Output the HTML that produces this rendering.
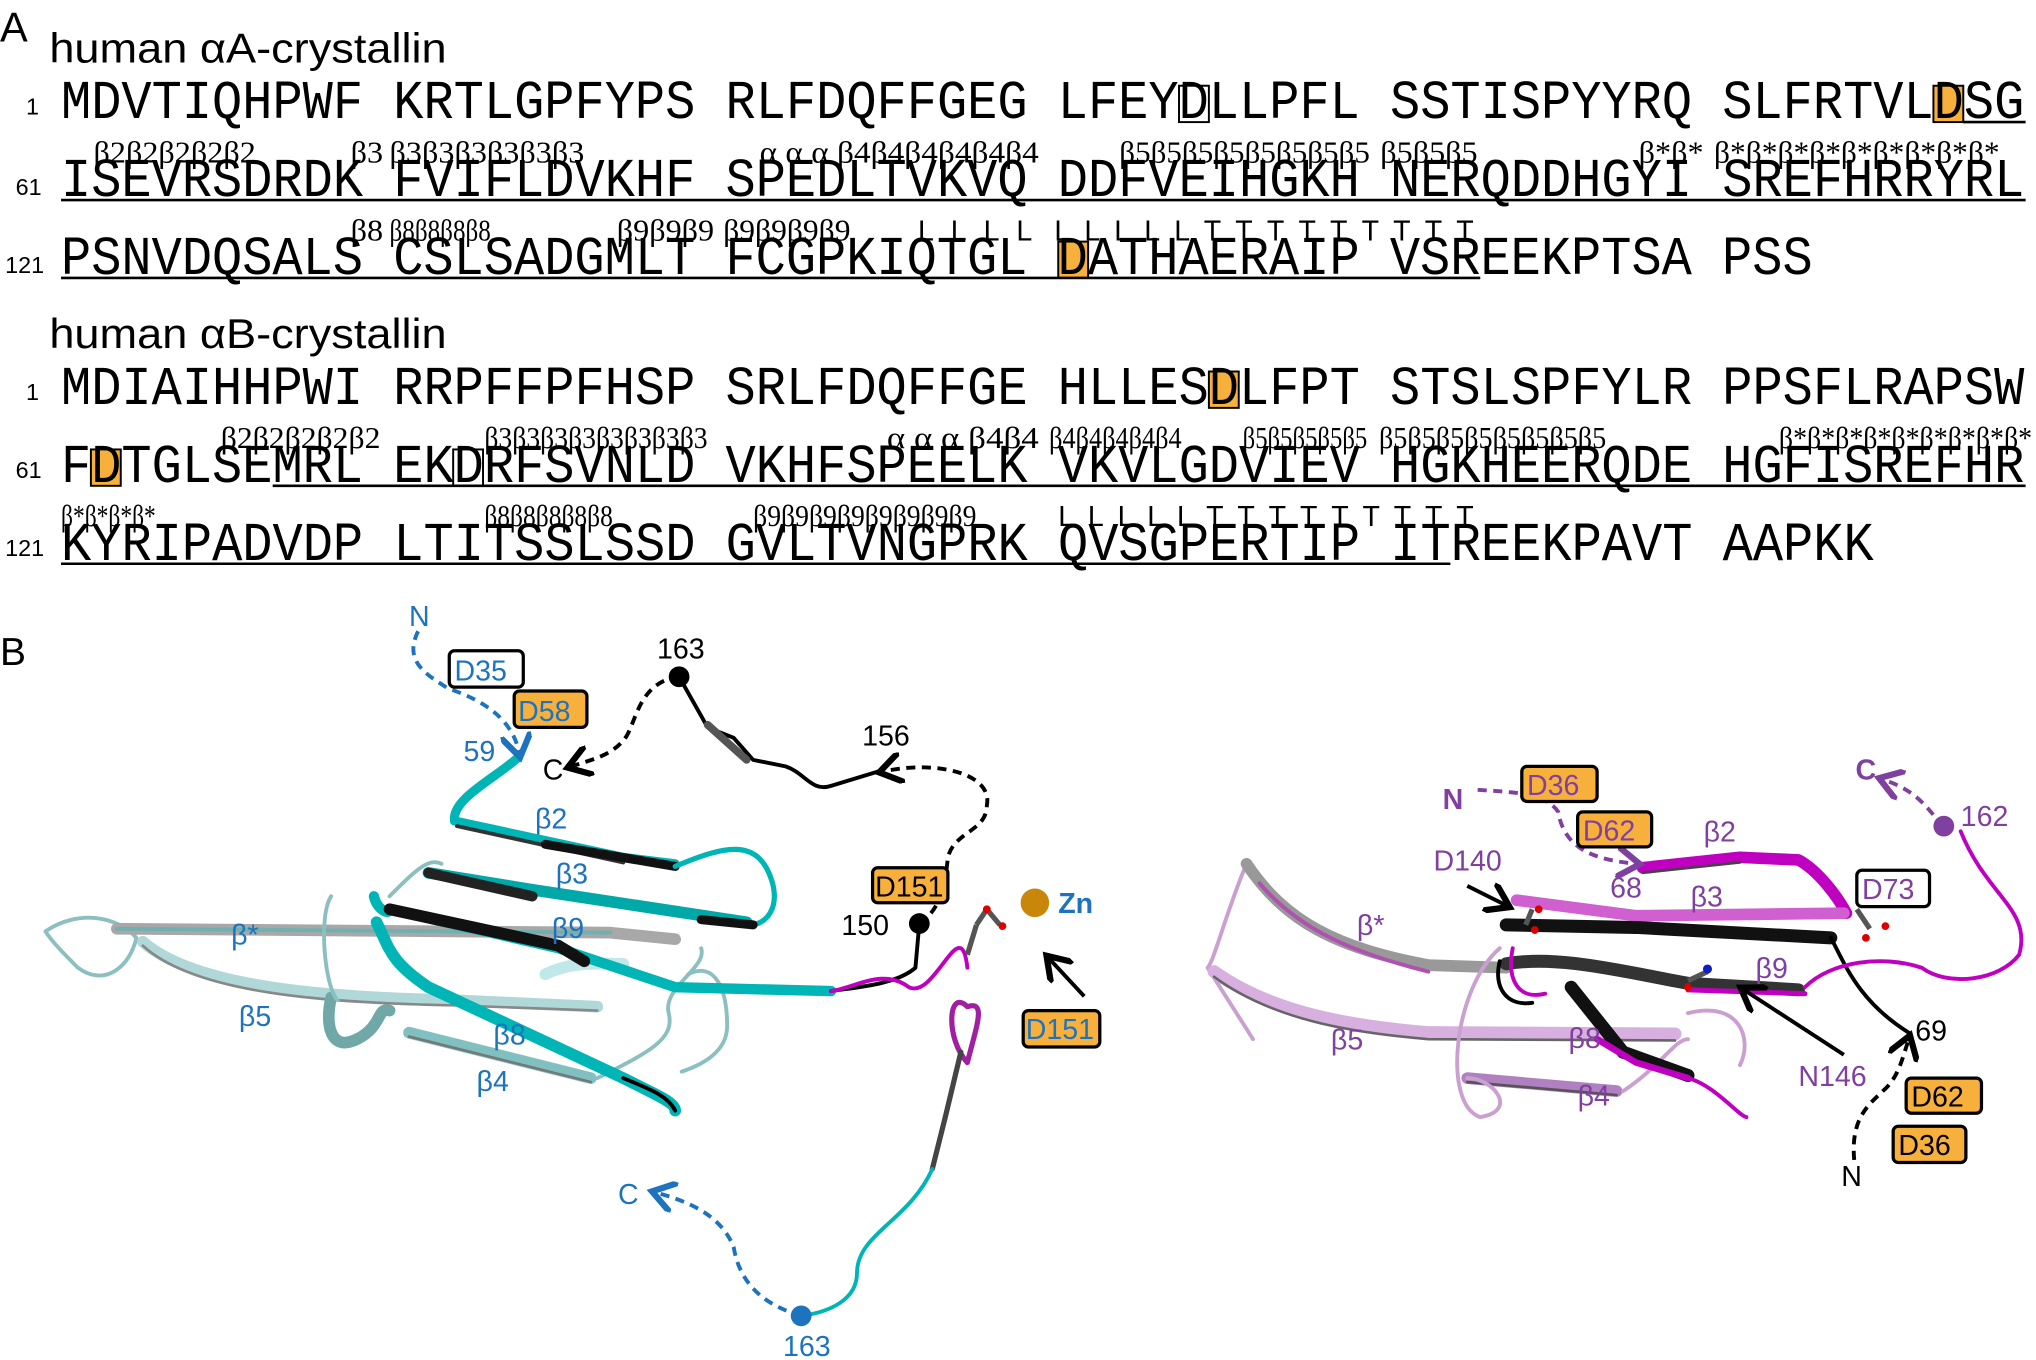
<!DOCTYPE html>
<html><head><meta charset="utf-8"><style>
html,body{margin:0;padding:0;background:#fff;}
svg{display:block;}
.seq{font-family:"Liberation Mono",monospace;font-size:42px;fill:#000;}
.lab{font-family:"Liberation Serif",serif;font-size:24px;fill:#000;}
.sans{font-family:"Liberation Sans",sans-serif;}
.num{font-family:"Liberation Sans",sans-serif;font-size:18px;fill:#000;}
</style></head><body>
<svg width="2036" height="1360" viewBox="0 0 1568 1047" preserveAspectRatio="none" xmlns="http://www.w3.org/2000/svg">
<!-- Panel A -->
<text x="0" y="32" class="sans" font-size="32">A</text>
<text x="38" y="48" class="sans" font-size="32" textLength="306" lengthAdjust="spacingAndGlyphs">human αA-crystallin</text>
<rect x="908" y="66" width="23" height="28" fill="#fff" stroke="#000" stroke-width="1.5"/>
<rect x="1489" y="66" width="23" height="28" fill="#f7b03c" stroke="#000" stroke-width="1.5"/>
<rect x="815" y="186" width="23" height="28" fill="#f7b03c" stroke="#000" stroke-width="1.5"/>
<rect x="931" y="286" width="23" height="28" fill="#f7b03c" stroke="#000" stroke-width="1.5"/>
<rect x="70" y="346" width="23" height="28" fill="#f7b03c" stroke="#000" stroke-width="1.5"/>
<rect x="349" y="346" width="23" height="28" fill="#fff" stroke="#000" stroke-width="1.5"/>

<text x="20" y="88" class="num">1</text>
<text x="47" y="91" class="seq" textLength="1512" lengthAdjust="spacingAndGlyphs">MDVTIQHPWF KRTLGPFYPS RLFDQFFGEG LFEYDLLPFL SSTISPYYRQ SLFRTVLDSG</text>
<line x1="1512" y1="94" x2="1560" y2="94" stroke="#000" stroke-width="2"/>

<text x="72" y="125" class="lab" textLength="125" lengthAdjust="spacingAndGlyphs">β2β2β2β2β2</text>
<text x="270" y="125" class="lab" textLength="25" lengthAdjust="spacingAndGlyphs">β3</text>
<text x="300" y="125" class="lab" textLength="150" lengthAdjust="spacingAndGlyphs">β3β3β3β3β3β3</text>
<text x="585" y="125" class="lab" textLength="215" lengthAdjust="spacingAndGlyphs">α α α β4β4β4β4β4β4</text>
<text x="862" y="125" class="lab" textLength="193" lengthAdjust="spacingAndGlyphs">β5β5β5β5β5β5β5β5</text>
<text x="1063" y="125" class="lab" textLength="75" lengthAdjust="spacingAndGlyphs">β5β5β5</text>
<text x="1262" y="125" class="lab" textLength="50" lengthAdjust="spacingAndGlyphs">β*β*</text>
<text x="1320" y="125" class="lab" textLength="220" lengthAdjust="spacingAndGlyphs">β*β*β*β*β*β*β*β*β*</text>
<text x="12" y="150" class="num">61</text>
<text x="47" y="151" class="seq" textLength="1512" lengthAdjust="spacingAndGlyphs">ISEVRSDRDK FVIFLDVKHF SPEDLTVKVQ DDFVEIHGKH NERQDDHGYI SREFHRRYRL</text>
<line x1="47" y1="154" x2="1560" y2="154" stroke="#000" stroke-width="2"/>

<text x="270" y="185" class="lab" textLength="25" lengthAdjust="spacingAndGlyphs">β8</text>
<text x="300" y="185" class="lab" textLength="78" lengthAdjust="spacingAndGlyphs">β8β8β8β8</text>
<text x="475" y="185" class="lab" textLength="75" lengthAdjust="spacingAndGlyphs">β9β9β9</text>
<text x="557" y="185" class="lab" textLength="98" lengthAdjust="spacingAndGlyphs">β9β9β9β9</text>
<text x="707" y="185" class="sans" font-size="22" textLength="88" lengthAdjust="spacing">L L L L</text>
<text x="812" y="185" class="sans" font-size="22" textLength="323" lengthAdjust="spacing">L L L L L T T T T T T  T T T</text>
<text x="4" y="210" class="num">121</text>
<text x="47" y="211" class="seq" textLength="1349" lengthAdjust="spacingAndGlyphs">PSNVDQSALS CSLSADGMLT FCGPKIQTGL DATHAERAIP VSREEKPTSA PSS</text>
<line x1="47" y1="214" x2="1140" y2="214" stroke="#000" stroke-width="2"/>

<text x="38" y="268" class="sans" font-size="32" textLength="306" lengthAdjust="spacingAndGlyphs">human αB-crystallin</text>
<text x="20" y="308" class="num">1</text>
<text x="47" y="311" class="seq" textLength="1512" lengthAdjust="spacingAndGlyphs">MDIAIHHPWI RRPFFPFHSP SRLFDQFFGE HLLESDLFPT STSLSPFYLR PPSFLRAPSW</text>

<text x="170" y="345" class="lab" textLength="123" lengthAdjust="spacingAndGlyphs">β2β2β2β2β2</text>
<text x="373" y="345" class="lab" textLength="172" lengthAdjust="spacingAndGlyphs">β3β3β3β3β3β3β3β3</text>
<text x="683" y="345" class="lab" textLength="117" lengthAdjust="spacingAndGlyphs">α α α β4β4</text>
<text x="808" y="345" class="lab" textLength="102" lengthAdjust="spacingAndGlyphs">β4β4β4β4β4</text>
<text x="957" y="345" class="lab" textLength="96" lengthAdjust="spacingAndGlyphs">β5β5β5β5β5</text>
<text x="1062" y="345" class="lab" textLength="175" lengthAdjust="spacingAndGlyphs">β5β5β5β5β5β5β5β5</text>
<text x="1370" y="345" class="lab" textLength="195" lengthAdjust="spacingAndGlyphs">β*β*β*β*β*β*β*β*β*</text>
<text x="12" y="368" class="num">61</text>
<text x="47" y="371" class="seq" textLength="1512" lengthAdjust="spacingAndGlyphs">FDTGLSEMRL EKDRFSVNLD VKHFSPEELK VKVLGDVIEV HGKHEERQDE HGFISREFHR</text>
<line x1="210" y1="374" x2="1560" y2="374" stroke="#000" stroke-width="2"/>

<text x="47" y="405" class="lab" textLength="73" lengthAdjust="spacingAndGlyphs">β*β*β*β*</text>
<text x="373" y="405" class="lab" textLength="99" lengthAdjust="spacingAndGlyphs">β8β8β8β8β8</text>
<text x="580" y="405" class="lab" textLength="172" lengthAdjust="spacingAndGlyphs">β9β9β9β9β9β9β9β9</text>
<text x="815" y="405" class="sans" font-size="22" textLength="320" lengthAdjust="spacing">L L L L L T T T T T T  T T T</text>
<text x="4" y="428" class="num">121</text>
<text x="47" y="431" class="seq" textLength="1396" lengthAdjust="spacingAndGlyphs">KYRIPADVDP LTITSSLSSD GVLTVNGPRK QVSGPERTIP ITREEKPAVT AAPKK</text>
<line x1="47" y1="434" x2="1117" y2="434" stroke="#000" stroke-width="2"/>

<!-- Panel B -->
<text x="0" y="512" class="sans" font-size="30">B</text>
<defs>
<marker id="ab" markerWidth="8" markerHeight="8" refX="5" refY="4" orient="auto" markerUnits="strokeWidth"><path d="M0,0 L6,4 L0,8" fill="none" stroke="#1e73be" stroke-width="1.6"/></marker>
<marker id="ak" markerWidth="8" markerHeight="8" refX="5" refY="4" orient="auto" markerUnits="strokeWidth"><path d="M0,0 L6,4 L0,8" fill="none" stroke="#000" stroke-width="1.6"/></marker>
<marker id="ap" markerWidth="8" markerHeight="8" refX="5" refY="4" orient="auto" markerUnits="strokeWidth"><path d="M0,0 L6,4 L0,8" fill="none" stroke="#8040a0" stroke-width="1.6"/></marker>
</defs>
<g fill="none" stroke-linecap="round" stroke-linejoin="round">
<path d="M35,717 C60,700 90,705 105,722 C100,745 80,760 60,745 C50,735 40,725 35,717" stroke="#8cc0c0" stroke-width="3"/>
<path d="M90,715 L470,718 L520,723" stroke="#a8a8a8" stroke-width="9"/>
<path d="M90,715 L470,718" stroke="#70b0b0" stroke-width="3"/>
<path d="M110,725 C150,760 250,768 350,770 L460,775" stroke="#b0d8d8" stroke-width="9"/>
<path d="M110,728 C150,765 250,772 350,774 L460,778" stroke="#888" stroke-width="2"/>
<path d="M255,768 C250,790 255,810 275,800 C295,790 290,775 300,778" stroke="#70a8a8" stroke-width="9"/>
<path d="M315,795 L455,830" stroke="#80c0c0" stroke-width="9"/>
<path d="M315,798 L455,833" stroke="#777" stroke-width="2"/>
<path d="M255,690 C245,705 250,760 260,770" stroke="#8cc0c0" stroke-width="3"/>
<path d="M300,690 C320,670 330,660 340,665" stroke="#8cc0c0" stroke-width="3"/>
<path d="M460,830 C500,810 520,800 515,780 C510,760 545,745 540,730" stroke="#8cc0c0" stroke-width="3"/>
<path d="M530,750 C550,740 560,760 560,790 C560,810 540,820 525,825" stroke="#8cc0c0" stroke-width="3"/>
<path d="M420,750 C440,740 460,742 480,742" stroke="#c0e8e8" stroke-width="9"/>
<path d="M398,584 C380,600 348,615 350,632 L480,660 L520,665" stroke="#00b5b5" stroke-width="7"/>
<path d="M352,636 L480,664" stroke="#333" stroke-width="3"/>
<path d="M420,650 L520,667" stroke="#111" stroke-width="7"/>
<path d="M520,667 C560,650 585,645 595,680 C600,700 590,710 580,712" stroke="#00b5b5" stroke-width="4"/>
<path d="M330,672 L410,685 L575,710" stroke="#00a8a8" stroke-width="9"/>
<path d="M330,672 L410,690" stroke="#222" stroke-width="8"/>
<path d="M540,708 L580,712" stroke="#111" stroke-width="7"/>
<path d="M288,690 C290,700 300,705 300,700 L430,730 L520,760 L640,763" stroke="#00b5b5" stroke-width="8"/>
<path d="M300,700 L430,728 L450,740" stroke="#111" stroke-width="9"/>
<path d="M640,763 C660,760 690,758 705,745 L708,711" stroke="#000" stroke-width="3"/>
<path d="M640,763 C660,760 680,745 700,760 C720,770 740,700 745,745" stroke="#c000c0" stroke-width="3"/>
<path d="M290,710 C300,730 300,740 330,760 L480,830 L500,840 C510,845 520,850 520,855" stroke="#00b5b5" stroke-width="9"/>
<path d="M480,830 C505,840 515,845 520,855" stroke="#000" stroke-width="3"/>
<path d="M745,775 C730,760 728,800 745,818 C752,790 760,770 745,775" stroke="#a020a0" stroke-width="4"/>
<path d="M740,810 L728,860 L718,900" stroke="#444" stroke-width="4"/>
<path d="M718,900 C700,940 660,950 660,980 C660,1000 640,1010 617,1013" stroke="#00b5b5" stroke-width="3"/>
<path d="M523,521 L545,560 L565,568 L580,585 L605,590 C620,595 625,610 640,605 L676,594" stroke="#000" stroke-width="3"/>
<path d="M545,558 L575,585" stroke="#555" stroke-width="6"/>
</g>
<path d="M322,486 C310,510 330,520 345,530 C375,540 395,555 400,580" fill="none" stroke="#1e73be" stroke-width="3" stroke-dasharray="7,5" marker-end="url(#ab)"/>
<path d="M523,521 C490,525 490,560 480,570 C470,582 455,585 440,590" fill="none" stroke="#000" stroke-width="3" stroke-dasharray="7,5" marker-end="url(#ak)"/>
<path d="M708,711 C725,700 728,680 730,660 C735,640 760,640 760,620 C765,595 720,585 680,594" fill="none" stroke="#000" stroke-width="3" stroke-dasharray="7,5" marker-end="url(#ak)"/>
<path d="M617,1013 C590,1005 570,990 565,960 C555,935 530,925 505,918" fill="none" stroke="#1e73be" stroke-width="3" stroke-dasharray="7,5" marker-end="url(#ab)"/>
<circle cx="523" cy="521" r="8" fill="#000"/>
<circle cx="708" cy="711" r="8" fill="#000"/>
<circle cx="617" cy="1013" r="8" fill="#1e73be"/>
<circle cx="797" cy="695" r="11" fill="#c8860a"/>
<g stroke="#555" stroke-width="4"><line x1="745" y1="735" x2="752" y2="712"/><line x1="752" y1="712" x2="760" y2="700"/><line x1="760" y1="700" x2="770" y2="712"/></g>
<circle cx="760" cy="700" r="3" fill="#d00"/><circle cx="772" cy="713" r="3" fill="#d00"/>
<line x1="835" y1="767" x2="808" y2="738" stroke="#000" stroke-width="3" marker-end="url(#ak)"/>
<g class="sans" font-size="22">
<text x="315" y="482" fill="#1e73be">N</text>
<rect x="346" y="501" width="57" height="28" rx="4" fill="#fff" stroke="#000" stroke-width="2.5"/>
<text x="350" y="524" fill="#1e73be">D35</text>
<rect x="396" y="532" width="56" height="28" rx="4" fill="#f7b03c" stroke="#000" stroke-width="2.5"/>
<text x="399" y="555" fill="#1e73be">D58</text>
<text x="357" y="586" fill="#1e73be">59</text>
<text x="418" y="600" fill="#000">C</text>
<text x="506" y="507" fill="#000">163</text>
<text x="664" y="574" fill="#000">156</text>
<rect x="672" y="668" width="58" height="27" rx="4" fill="#f7b03c" stroke="#000" stroke-width="2.5"/>
<text x="674" y="690" fill="#000">D151</text>
<text x="648" y="720" fill="#000">150</text>
<text x="815" y="703" fill="#1e73be" font-weight="bold">Zn</text>
<rect x="788" y="778" width="59" height="28" rx="4" fill="#f7b03c" stroke="#000" stroke-width="2.5"/>
<text x="790" y="800" fill="#1e73be">D151</text>
<text x="476" y="927" fill="#1e73be">C</text>
<text x="603" y="1044" fill="#1e73be">163</text>
<text x="412" y="638" fill="#1e73be">β2</text>
<text x="428" y="680" fill="#1e73be">β3</text>
<text x="425" y="722" fill="#1e73be">β9</text>
<text x="178" y="727" fill="#1e73be">β*</text>
<text x="184" y="790" fill="#1e73be">β5</text>
<text x="380" y="804" fill="#1e73be">β8</text>
<text x="367" y="840" fill="#1e73be">β4</text>
</g>

<g fill="none" stroke-linecap="round" stroke-linejoin="round">
<path d="M960,665 C945,700 935,740 930,745 L965,800" stroke="#c9a0d0" stroke-width="3"/>
<path d="M960,665 C990,710 1030,730 1100,743 L1160,745" stroke="#999" stroke-width="9"/>
<path d="M970,680 C1000,715 1040,733 1100,748" stroke="#b050b0" stroke-width="3"/>
<path d="M935,748 C980,780 1040,790 1100,795 L1290,796" stroke="#d8b0e0" stroke-width="10"/>
<path d="M935,752 C980,785 1040,795 1100,800 L1290,801" stroke="#666" stroke-width="2"/>
<path d="M1130,830 L1245,840" stroke="#b080c0" stroke-width="9"/>
<path d="M1130,833 L1245,843" stroke="#555" stroke-width="2"/>
<path d="M1155,730 C1120,760 1110,850 1140,860 C1170,855 1150,830 1130,830" stroke="#c9a0d0" stroke-width="3"/>
<path d="M1250,840 C1280,820 1290,800 1300,800 M1300,780 C1340,770 1350,800 1340,820" stroke="#c9a0d0" stroke-width="3"/>
<path d="M1265,668 L1340,660 L1385,662 C1400,670 1415,690 1422,703" stroke="#c000c0" stroke-width="9"/>
<path d="M1265,672 L1340,664" stroke="#444" stroke-width="2"/>
<path d="M1168,693 L1260,705 L1420,703" stroke="#d060d0" stroke-width="9"/>
<path d="M1160,712 L1260,714 L1410,722" stroke="#111" stroke-width="10"/>
<path d="M1410,722 C1420,740 1430,770 1470,795" stroke="#000" stroke-width="3"/>
<path d="M1160,742 C1200,735 1250,748 1300,757 L1385,762" stroke="#333" stroke-width="10"/>
<path d="M1300,762 L1390,765" stroke="#c000c0" stroke-width="4"/>
<path d="M1155,740 C1150,760 1160,775 1180,772" stroke="#000" stroke-width="3"/>
<path d="M1165,730 C1160,755 1170,770 1190,765" stroke="#c000c0" stroke-width="3"/>
<path d="M1210,760 L1250,810 L1300,828" stroke="#111" stroke-width="10"/>
<path d="M1230,800 L1260,818 L1300,830" stroke="#c000c0" stroke-width="5"/>
<path d="M1300,830 C1320,835 1340,860 1345,860" stroke="#c000c0" stroke-width="3"/>
<path d="M1390,760 C1410,740 1450,735 1480,745 C1500,760 1540,755 1555,735 C1565,700 1530,690 1510,640" stroke="#c000c0" stroke-width="3"/>
</g>
<path d="M1138,608 C1165,610 1190,610 1200,625 C1205,655 1230,662 1260,665" fill="none" stroke="#8040a0" stroke-width="3" stroke-dasharray="7,5" marker-end="url(#ap)"/>
<path d="M1497,636 C1485,625 1480,610 1450,600" fill="none" stroke="#8040a0" stroke-width="3" stroke-dasharray="7,5" marker-end="url(#ap)"/>
<path d="M1428,893 C1425,860 1440,850 1450,840 C1462,830 1465,815 1470,800" fill="none" stroke="#000" stroke-width="3" stroke-dasharray="7,5" marker-end="url(#ak)"/>
<circle cx="1497" cy="636" r="8" fill="#8040a0"/>
<line x1="1130" y1="682" x2="1160" y2="697" stroke="#000" stroke-width="3" marker-end="url(#ak)"/>
<line x1="1420" y1="812" x2="1343" y2="762" stroke="#000" stroke-width="3" marker-end="url(#ak)"/>
<g stroke="#555" stroke-width="4"><line x1="1175" y1="712" x2="1180" y2="700"/><line x1="1430" y1="700" x2="1440" y2="715"/><line x1="1300" y1="755" x2="1315" y2="748"/></g>
<circle cx="1185" cy="700" r="3" fill="#d00"/><circle cx="1182" cy="716" r="3" fill="#d00"/>
<circle cx="1452" cy="713" r="3" fill="#d00"/><circle cx="1437" cy="722" r="3" fill="#d00"/>
<circle cx="1315" cy="746" r="3.5" fill="#1020c0"/><circle cx="1300" cy="760" r="3" fill="#d00"/>
<g class="sans" font-size="22" fill="#8040a0">
<text x="1111" y="623" font-weight="bold">N</text>
<rect x="1172" y="590" width="58" height="27" rx="4" fill="#f7b03c" stroke="#000" stroke-width="2.5"/>
<text x="1176" y="612">D36</text>
<rect x="1215" y="625" width="57" height="27" rx="4" fill="#f7b03c" stroke="#000" stroke-width="2.5"/>
<text x="1219" y="647">D62</text>
<text x="1240" y="691">68</text>
<text x="1312" y="648">β2</text>
<text x="1429" y="600" font-weight="bold">C</text>
<text x="1510" y="636">162</text>
<text x="1104" y="670">D140</text>
<text x="1302" y="698">β3</text>
<rect x="1430" y="670" width="56" height="28" rx="4" fill="#fff" stroke="#000" stroke-width="2.5"/>
<text x="1434" y="692">D73</text>
<text x="1045" y="720">β*</text>
<text x="1352" y="753">β9</text>
<text x="1025" y="808">β5</text>
<text x="1208" y="807">β8</text>
<text x="1385" y="836">N146</text>
<text x="1215" y="851">β4</text>
<text x="1475" y="801" fill="#000">69</text>
<rect x="1468" y="830" width="58" height="27" rx="4" fill="#f7b03c" stroke="#000" stroke-width="2.5"/>
<text x="1472" y="852" fill="#000">D62</text>
<rect x="1458" y="867" width="56" height="28" rx="4" fill="#f7b03c" stroke="#000" stroke-width="2.5"/>
<text x="1462" y="889" fill="#000">D36</text>
<text x="1418" y="913" fill="#000">N</text>
</g>
</svg>
</body></html>
